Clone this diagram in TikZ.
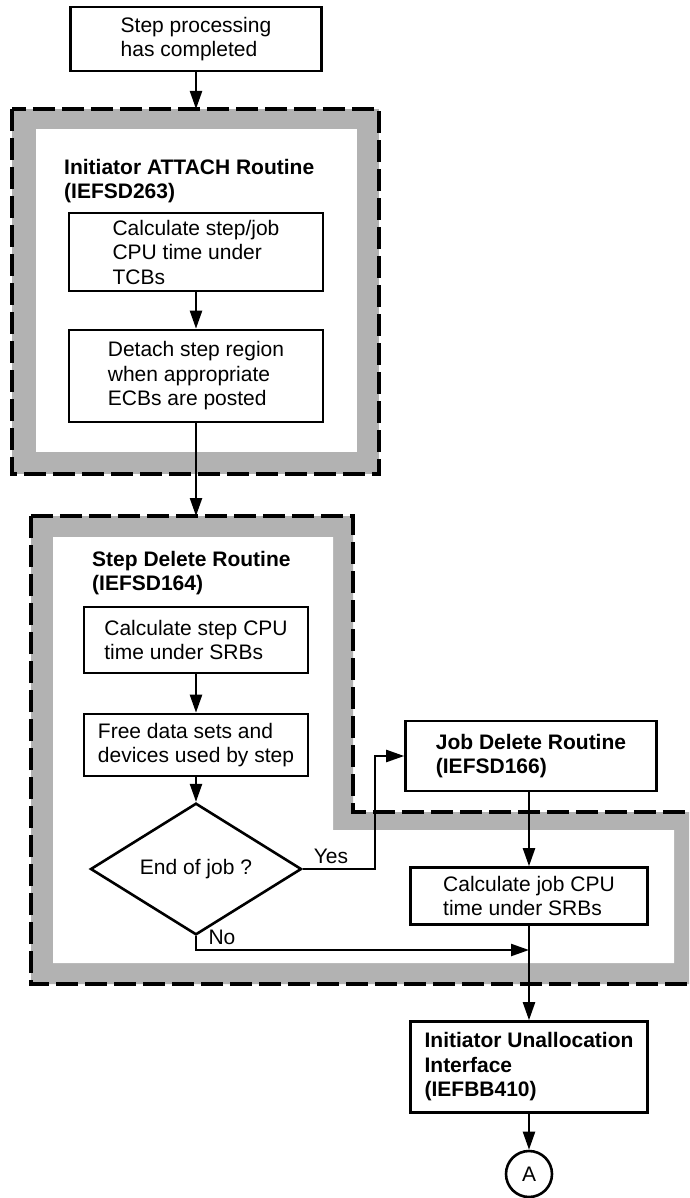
\documentclass[tikz,border=0pt]{standalone}
\usepackage{fontspec}
\setmainfont{Liberation Sans}
\usetikzlibrary{arrows.meta,shapes.geometric}
\begin{document}
\begin{tikzpicture}[x=1pt,y=-1pt,
  txt/.style={font=\fontsize{21}{24.5}\selectfont},
  stepbox/.style={draw, line width=2.6pt, fill=white, txt, align=left, inner sep=0pt, minimum width=#1},
  titletext/.style={txt, font=\fontsize{21}{24.5}\selectfont\bfseries, align=left, inner sep=0pt, anchor=west},
  decision/.style={draw, diamond, line width=2.6pt, fill=white, txt, inner sep=0pt, minimum width=211pt, minimum height=109pt},
  conn/.style={draw, circle, line width=2.6pt, fill=white, txt, inner sep=0pt, minimum size=46pt},
  arr/.style={line width=2.3pt, -{Triangle[length=18pt,width=12pt]}},
  lbl/.style={txt, inner sep=0pt},
  band/.style={fill=black!30},
  outline/.style={draw, line width=3.5pt, dash pattern=on 22pt off 7pt}
]
\useasboundingbox (0,0) rectangle (689,1198);
\clip (0,0) rectangle (689,1198);

% region 1: Initiator ATTACH Routine
\path[band] (12,109) rectangle (379,474);
\path[fill=white] (36,129) rectangle (357,452);
\path[outline] (12,109) rectangle (379,474);

% region 2: Step Delete / Job Delete
\path[band] (31,516) -- (353,516) -- (353,812) -- (705,812) -- (705,984) -- (31,984) -- cycle;
\path[fill=white] (53,537) -- (333,537) -- (333,830) -- (674,830) -- (674,963) -- (53,963) -- cycle;
\path[outline] (31,516) -- (353,516) -- (353,812) -- (705,812) -- (705,984) -- (31,984) -- cycle;

\coordinate (r1top) at (196,109);
\coordinate (r2top) at (196,516);
\coordinate (join) at (529,950);

% nodes
\node[stepbox=251pt, minimum height=64pt] (n0) at (196,39) {Step processing\\has completed};
\node[titletext] (t1) at (64,181) {Initiator ATTACH Routine\\(IEFSD263)};
\node[stepbox=254pt, minimum height=78pt] (n1) at (196,252) {Calculate step/job\\CPU time under\\TCBs};
\node[stepbox=254pt, minimum height=92pt] (n2) at (196,376) {Detach step region\\when appropriate\\ECBs are posted};

\node[titletext] (t2) at (92,573) {Step Delete Routine\\(IEFSD164)};
\node[stepbox=224pt, minimum height=66pt] (n3) at (196,640) {Calculate step CPU\\time under SRBs};
\node[stepbox=224pt, minimum height=62pt] (n4) at (196,745) {Free data sets and\\devices used by step};
\node[decision] (d) at (196,869) {End of job ?};

\node[stepbox=251pt, minimum height=70pt, font=\fontsize{21}{24.5}\selectfont\bfseries] (n5) at (531,756) {Job Delete Routine\\(IEFSD166)};
\node[stepbox=237pt, minimum height=57pt] (n6) at (529,896) {Calculate job CPU\\time under SRBs};
\node[stepbox=237pt, minimum height=91pt, font=\fontsize{21}{24.5}\selectfont\bfseries] (n7) at (529,1067) {Initiator Unallocation\\Interface\\(IEFBB410)};
\node[conn] (A) at (529,1174) {A};

\node[lbl] (yes) at (331,856) {Yes};
\node[lbl] (no) at (222,937) {No};

% connectors
\draw[arr] (n0.south) -- (r1top);
\draw[arr] (n1.south) -- (n2.north);
\draw[arr] (n2.south) -- (r2top);
\draw[arr] (n3.south) -- (n4.north);
\draw[arr] (n4.south) -- (d.north);
\draw[arr] (d.east) -- ++(72,0) |- (n5.west);
\draw[arr] (n5.south -| n6.north) -- (n6.north);
\draw[arr] (d.south) |- (join);
\draw[arr] (n6.south) -- (n7.north);
\draw[arr] (n7.south) -- (A.north);
\end{tikzpicture}
\end{document}
